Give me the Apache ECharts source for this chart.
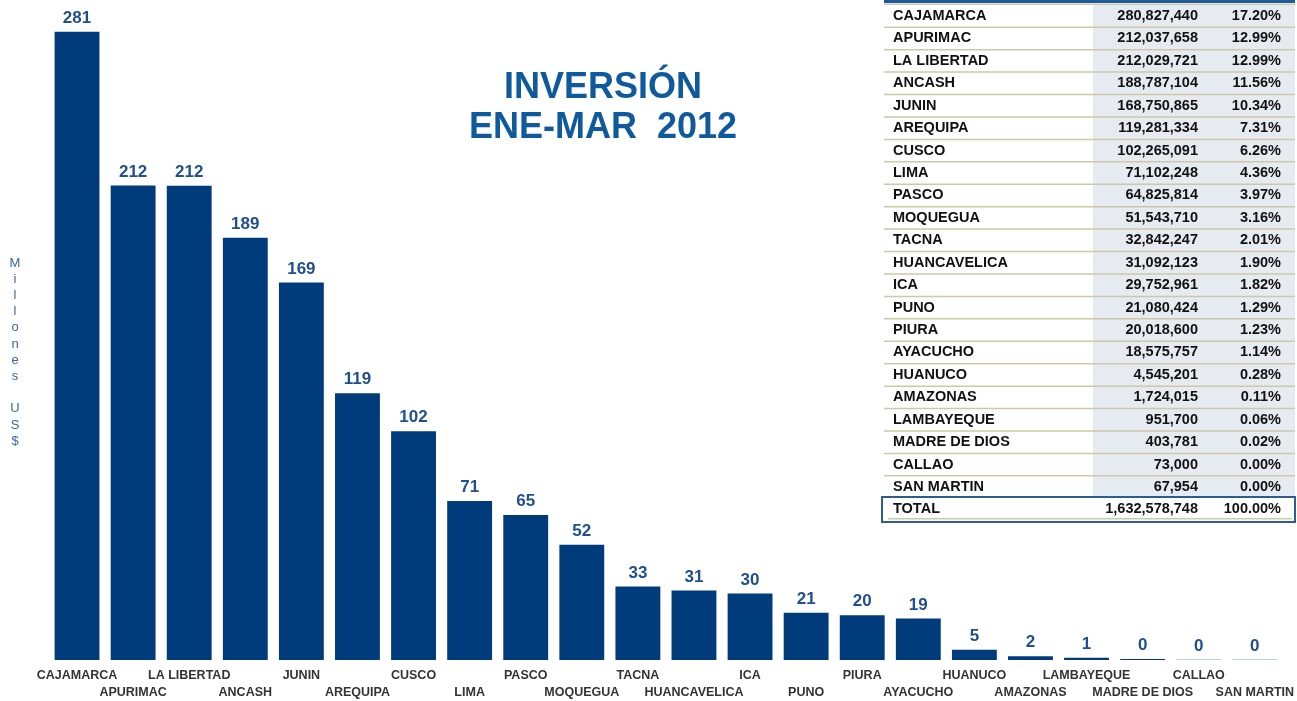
<!DOCTYPE html>
<html>
<head>
<meta charset="utf-8">
<script src="https://cdn.jsdelivr.net/npm/echarts@6/dist/echarts.min.js"></script>
<style>
	html, body { margin: 0; padding: 0; background: #fff; }
	#main { width: 1297px; height: 701px; }
</style>
</head>
<body>
<div id="main"></div>
<script>
const regions = ["CAJAMARCA", "APURIMAC", "LA LIBERTAD", "ANCASH", "JUNIN", "AREQUIPA", "CUSCO", "LIMA", "PASCO", "MOQUEGUA", "TACNA", "HUANCAVELICA", "ICA", "PUNO", "PIURA", "AYACUCHO", "HUANUCO", "AMAZONAS", "LAMBAYEQUE", "MADRE DE DIOS", "CALLAO", "SAN MARTIN"];
const amounts = [280827440, 212037658, 212029721, 188787104, 168750865, 119281334, 102265091, 71102248, 64825814, 51543710, 32842247, 31092123, 29752961, 21080424, 20018600, 18575757, 4545201, 1724015, 951700, 403781, 73000, 67954];
const shares = ["17.20%", "12.99%", "12.99%", "11.56%", "10.34%", "7.31%", "6.26%", "4.36%", "3.97%", "3.16%", "2.01%", "1.90%", "1.82%", "1.29%", "1.23%", "1.14%", "0.28%", "0.11%", "0.06%", "0.02%", "0.00%", "0.00%"];
const totalAmount = "1,632,578,748";
const totalShare = "100.00%";

const millions = amounts.map(v => v / 1e6);

const chart = echarts.init(document.getElementById("main"), null, { renderer: "canvas" });

const FONT = "'Liberation Sans', Arial, sans-serif";
const TFONT = "bold 14.5px " + FONT;
const fmt = n => n.toLocaleString("en-US");

// table drawn as graphic elements
const tbl = [];
const rowY0 = 16, rowH = 22.43;
const tx0 = 884, tx1 = 1295;
tbl.push({ type: "rect", shape: { x: 1093, y: 5, width: 202, height: rowY0 + 21 * rowH + 11 - 5 }, style: { fill: "#e6eaf1" }, silent: true });
tbl.push({ type: "rect", shape: { x: tx0, y: 0, width: tx1 - tx0, height: 3 }, style: { fill: "#1c5a98" }, silent: true });
tbl.push({ type: "rect", shape: { x: tx0, y: 3.5, width: tx1 - tx0, height: 1.5 }, style: { fill: "#cdc9a8" }, silent: true });
regions.forEach((r, i) => {
	const y = rowY0 + i * rowH;
	tbl.push({ type: "text", x: 893, y: y, style: { text: r, font: TFONT, fill: "#111", verticalAlign: "middle" }, silent: true });
	tbl.push({ type: "text", x: 1198, y: y, style: { text: fmt(amounts[i]), font: TFONT, fill: "#111", align: "right", verticalAlign: "middle" }, silent: true });
	tbl.push({ type: "text", x: 1281, y: y, style: { text: shares[i], font: TFONT, fill: "#111", align: "right", verticalAlign: "middle" }, silent: true });
	if (i < regions.length - 1) {
		tbl.push({ type: "rect", shape: { x: tx0, y: y + 10.5, width: tx1 - tx0, height: 1.5 }, style: { fill: "#cdc9a8" }, silent: true });
	}
});
const totY = 509;
tbl.push({ type: "rect", shape: { x: 882, y: 497, width: 413, height: 25 }, style: { fill: "#fff", stroke: "#2d5c90", lineWidth: 2 }, silent: true });
tbl.push({ type: "rect", shape: { x: 888, y: 518, width: 404, height: 1.5 }, style: { fill: "#cdc9a8" }, silent: true });
tbl.push({ type: "text", x: 893, y: totY, style: { text: "TOTAL", font: TFONT, fill: "#111", verticalAlign: "middle" }, silent: true });
tbl.push({ type: "text", x: 1198, y: totY, style: { text: totalAmount, font: TFONT, fill: "#111", align: "right", verticalAlign: "middle" }, silent: true });
tbl.push({ type: "text", x: 1281, y: totY, style: { text: totalShare, font: TFONT, fill: "#111", align: "right", verticalAlign: "middle" }, silent: true });

const option = {
	backgroundColor: "#fff",
	animation: false,
	grid: { left: 49, right: 12, top: 0, bottom: 39, containLabel: false },
	xAxis: {
		type: "category",
		data: regions,
		axisLine: { show: false },
		axisTick: { show: false },
		axisLabel: {
			interval: 0,
			margin: 7,
			fontFamily: FONT,
			fontWeight: "bold",
			fontSize: 12.5,
			color: "#333",
			lineHeight: 17,
			formatter: (v, i) => (i % 2 ? "\n" + v : v),
		},
	},
	yAxis: {
		type: "value",
		min: 0,
		max: 295,
		show: false,
		splitLine: { show: false },
	},
	series: [
		{
			type: "bar",
			data: millions,
			barCategoryGap: "20%",
			itemStyle: { color: "#003b7b" },
			label: {
				show: true,
				position: "top",
				distance: 5,
				fontFamily: FONT,
				fontWeight: "bold",
				fontSize: 17,
				color: "#1f4f8e",
				formatter: p => Math.round(p.value),
			},
		},
	],
	graphic: [
		{ type: "text", x: 603, y: 88, style: { text: "INVERSIÓN", font: "bold 36px " + FONT, fill: "#0f5a9c", align: "center", verticalAlign: "middle" }, silent: true },
		{ type: "text", x: 603, y: 128, style: { text: "ENE-MAR  2012", font: "bold 36px " + FONT, fill: "#0f5a9c", align: "center", verticalAlign: "middle" }, silent: true },
		{ type: "text", x: 15, y: 255, style: { text: "Millones US$".split("").join("\n"), font: "13px " + FONT, fill: "#3567a6", align: "center", lineHeight: 16.2 }, silent: true },
		...tbl,
	],
};

chart.setOption(option);
</script>
</body>
</html>
